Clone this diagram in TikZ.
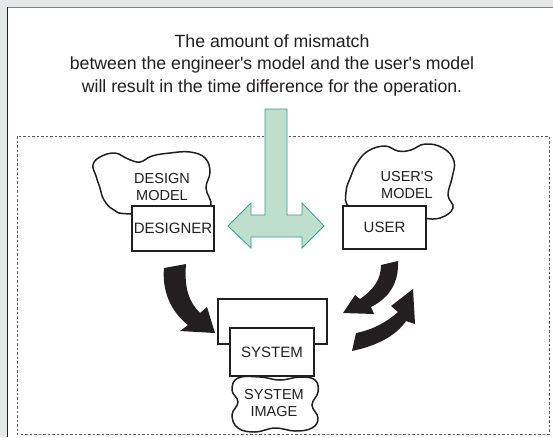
\documentclass[tikz,border=0pt]{standalone}
\usepackage{fontspec}
\setmainfont{Liberation Sans}[Ligatures=TeXOff]
\usetikzlibrary{positioning}
\definecolor{bgx}{HTML}{E6E7E9}
\definecolor{mint}{HTML}{BEDFCE}
\definecolor{tealx}{HTML}{3A9A94}
\definecolor{inkx}{HTML}{231F20}
\tikzset{
  box/.style={draw=inkx,line width=2.6pt,fill=white,inner sep=0pt,text=inkx,font=\fontsize{15}{17}\selectfont},
  cloud/.style={draw=inkx,line width=1.5pt,fill=white},
  cltext/.style={align=center,inner sep=0pt,text=inkx,font=\fontsize{14.5}{16.5}\selectfont},
  fat/.style={fill=inkx,draw=none}
}

\begin{document}
\begin{tikzpicture}[x=1pt,y=-1pt]
\useasboundingbox (0,0) rectangle (553,437);
% frame
\fill[bgx] (0,0) rectangle (553,437);
\fill[white] (7,8) rectangle (553,437);
\draw[gray,line width=1.5pt] (7,7.5) -- (553,7.5);
\draw[inkx,line width=1pt] (7.5,7) -- (7.5,437);
\node[align=center,text=inkx,font=\fontsize{17.7}{22.5}\selectfont] (note) at (272,65)
  {The amount of mismatch\\between the engineer's model and the user's model\\will result in the time difference for the operation.};
\draw[gray!70!black,line width=1pt,dash pattern=on 2.5pt off 2pt] (17,136) rectangle (549,434);
% mismatch arrow
\draw[tealx,fill=mint,line width=0.8pt] (265,109) -- (287,109) -- (287,215) -- (302,215) -- (302,203)
  -- (324,226) -- (302,248) -- (302,237) -- (251,237) -- (251,248) -- (228,226) -- (251,203)
  -- (251,215) -- (265,215) -- cycle;
% clouds
\draw[cloud] plot[smooth cycle,tension=0.7] coordinates {(131,214) (114,210) (104,200) (100,188) (96,176)
  (93,165) (100,157) (115,153) (128,159) (140,162) (152,156) (170,153) (190,152) (205,158) (210,172)
  (206,188) (211,205) (200,214)};
\node[cltext] (dmodel) at (162,187) {DESIGN\\MODEL};
\draw[cloud] plot[smooth cycle,tension=0.7] coordinates {(350,207) (346,192) (351,176) (357,163) (368,151)
  (385,146) (398,151) (411,150) (425,144) (443,148) (454,161) (452,178) (448,195) (453,208) (440,218)
  (420,218) (380,214)};
\node[cltext] (umodel) at (407,185) {USER'S\\MODEL};
% boxes
\node[box,minimum width=82pt,minimum height=45pt] (designer) at (173,228.5) {DESIGNER};
\node[box,minimum width=83pt,minimum height=43pt] (user) at (384.5,227.5) {USER};
\node[box,minimum width=109pt,minimum height=45pt] (frame) at (272.5,321.5) {};
\draw[cloud] plot[smooth cycle,tension=0.7] coordinates {(238,378) (260,377) (280,380) (300,377) (315,380)
  (318,392) (312,405) (318,418) (312,428) (295,431) (275,428) (255,432) (238,428) (232,415) (238,402)
  (232,390)};
\node[cltext] (simage) at (274,403) {SYSTEM\\IMAGE};
\node[box,minimum width=84pt,minimum height=48pt] (system) at (272,352) {SYSTEM};
% fat arrows
\fill[fat] (164,268) -- (186,264) .. controls (184,288) and (189,302) .. (200,313) -- (207,307)
  -- (215,333) -- (180,331) -- (188,325) .. controls (170,311) and (162,290) .. (164,268) -- cycle;
\fill[fat] (381,265) -- (398,261) .. controls (399,283) and (389,298) .. (371,307) -- (374,314)
  -- (343,313) -- (355,295) -- (360,299) .. controls (373,290) and (381,280) .. (381,265) -- cycle;
\fill[fat] (356,333) -- (352,351) .. controls (376,346) and (396,336) .. (406,321) -- (415,324)
  -- (413,289) -- (391,306) -- (398,312) .. controls (387,322) and (372,330) .. (356,333) -- cycle;
\end{tikzpicture}
\end{document}
